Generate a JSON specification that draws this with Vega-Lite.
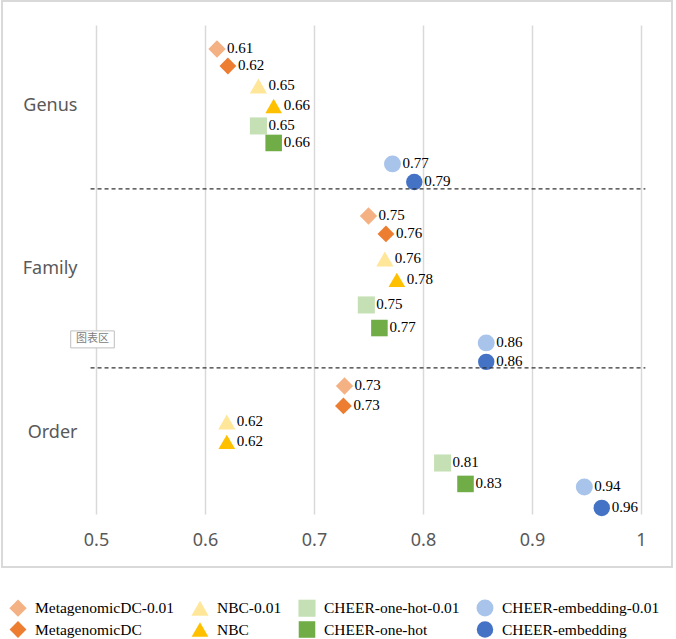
{
  "$schema": "https://vega.github.io/schema/vega-lite/v6.json",
  "autosize": "none",
  "width": 545,
  "height": 489,
  "padding": {"left": 96, "top": 25, "right": 35, "bottom": 125},
  "background": "white",
  "config": {"view": {"stroke": null}},
  "data": {"values": [
    {"rank": "Genus", "series": "MetagenomicDC-0.01", "acc": 0.611, "pos": 2.782, "label": "0.61"},
    {"rank": "Genus", "series": "MetagenomicDC", "acc": 0.621, "pos": 2.687, "label": "0.62"},
    {"rank": "Genus", "series": "NBC-0.01", "acc": 0.649, "pos": 2.575, "label": "0.65"},
    {"rank": "Genus", "series": "NBC", "acc": 0.663, "pos": 2.464, "label": "0.66"},
    {"rank": "Genus", "series": "CHEER-one-hot-0.01", "acc": 0.649, "pos": 2.352, "label": "0.65"},
    {"rank": "Genus", "series": "CHEER-one-hot", "acc": 0.663, "pos": 2.257, "label": "0.66"},
    {"rank": "Genus", "series": "CHEER-embedding-0.01", "acc": 0.772, "pos": 2.140, "label": "0.77"},
    {"rank": "Genus", "series": "CHEER-embedding", "acc": 0.792, "pos": 2.039, "label": "0.79"},
    {"rank": "Family", "series": "MetagenomicDC-0.01", "acc": 0.750, "pos": 1.849, "label": "0.75"},
    {"rank": "Family", "series": "MetagenomicDC", "acc": 0.766, "pos": 1.749, "label": "0.76"},
    {"rank": "Family", "series": "NBC-0.01", "acc": 0.765, "pos": 1.609, "label": "0.76"},
    {"rank": "Family", "series": "NBC", "acc": 0.776, "pos": 1.492, "label": "0.78"},
    {"rank": "Family", "series": "CHEER-one-hot-0.01", "acc": 0.748, "pos": 1.352, "label": "0.75"},
    {"rank": "Family", "series": "CHEER-one-hot", "acc": 0.760, "pos": 1.223, "label": "0.77"},
    {"rank": "Family", "series": "CHEER-embedding-0.01", "acc": 0.858, "pos": 1.140, "label": "0.86"},
    {"rank": "Family", "series": "CHEER-embedding", "acc": 0.858, "pos": 1.034, "label": "0.86"},
    {"rank": "Order", "series": "MetagenomicDC-0.01", "acc": 0.728, "pos": 0.899, "label": "0.73"},
    {"rank": "Order", "series": "MetagenomicDC", "acc": 0.727, "pos": 0.788, "label": "0.73"},
    {"rank": "Order", "series": "NBC-0.01", "acc": 0.620, "pos": 0.698, "label": "0.62"},
    {"rank": "Order", "series": "NBC", "acc": 0.620, "pos": 0.587, "label": "0.62"},
    {"rank": "Order", "series": "CHEER-one-hot-0.01", "acc": 0.818, "pos": 0.469, "label": "0.81"},
    {"rank": "Order", "series": "CHEER-one-hot", "acc": 0.839, "pos": 0.352, "label": "0.83"},
    {"rank": "Order", "series": "CHEER-embedding-0.01", "acc": 0.948, "pos": 0.335, "label": "0.94"},
    {"rank": "Order", "series": "CHEER-embedding", "acc": 0.964, "pos": 0.218, "label": "0.96"}
  ]},
  "layer": [
    {
      "mark": {"type": "rect", "fill": null, "stroke": "#d9d9d9", "strokeWidth": 1.5, "clip": false},
      "encoding": {
        "x": {"datum": 0.4138, "type": "quantitative", "scale": {"domain": [0.5, 1.0], "nice": false, "zero": false}},
        "x2": {"datum": 1.0284},
        "y": {"datum": 3.0503, "type": "quantitative", "scale": {"domain": [0.184, 2.916], "nice": false, "zero": false}},
        "y2": {"datum": -0.1117}
      }
    },
    {
      "mark": {"type": "point", "filled": true, "opacity": 1, "strokeWidth": 0},
      "encoding": {
        "x": {"field": "acc", "type": "quantitative",
          "scale": {"domain": [0.5, 1.0], "nice": false, "zero": false},
          "axis": {"values": [0.5, 0.6, 0.7, 0.8, 0.9, 1.0], "format": "~g", "title": null, "labelFlush": false,
            "grid": true, "gridColor": "#d9d9d9", "gridWidth": 1.5, "domain": false, "ticks": false,
            "labelFont": "Noto Sans", "labelFontSize": 18, "labelColor": "#595959", "labelPadding": 17}},
        "y": {"field": "pos", "type": "quantitative",
          "scale": {"domain": [0.184, 2.916], "nice": false, "zero": false},
          "axis": {"values": [2.464, 1.553, 0.642], "title": null, "grid": false, "domain": false, "ticks": false,
            "labelExpr": "datum.value > 2 ? 'Genus' : (datum.value > 1 ? 'Family' : 'Order')",
            "labelFont": "Noto Sans", "labelFontSize": 18, "labelColor": "#595959", "labelPadding": 19}},
        "color": {"field": "series", "type": "nominal",
          "scale": {
            "domain": ["MetagenomicDC-0.01", "NBC-0.01", "CHEER-one-hot-0.01", "CHEER-embedding-0.01", "MetagenomicDC", "NBC", "CHEER-one-hot", "CHEER-embedding"],
            "range": ["#F4B183", "#FFE699", "#C5E0B4", "#A9C4EB", "#ED7D31", "#FFC000", "#70AD47", "#4472C4"]},
          "legend": {"orient": "none", "legendX": -87, "legendY": 574, "columns": 4, "direction": "horizontal",
            "title": null, "symbolSize": 270, "symbolOpacity": 1, "symbolStrokeWidth": 0, "labelFont": "Liberation Serif", "labelFontSize": 15.5,
            "labelColor": "black", "columnPadding": 16, "rowPadding": 4, "padding": 0, "labelOffset": 8, "labelLimit": 300}},
        "shape": {"field": "series", "type": "nominal",
          "scale": {
            "domain": ["MetagenomicDC-0.01", "NBC-0.01", "CHEER-one-hot-0.01", "CHEER-embedding-0.01", "MetagenomicDC", "NBC", "CHEER-one-hot", "CHEER-embedding"],
            "range": ["diamond", "triangle-up", "square", "circle", "diamond", "triangle-up", "square", "circle"]}},
        "size": {"field": "series", "type": "nominal", "legend": null,
          "scale": {
            "domain": ["MetagenomicDC-0.01", "NBC-0.01", "CHEER-one-hot-0.01", "CHEER-embedding-0.01", "MetagenomicDC", "NBC", "CHEER-one-hot", "CHEER-embedding"],
            "range": [300, 270, 196, 200, 300, 270, 196, 200]}}
      }
    },
    {
      "mark": {"type": "text", "align": "left", "baseline": "middle", "dx": 10, "dy": -1, "font": "Liberation Serif", "fontSize": 15, "color": "black"},
      "encoding": {
        "x": {"field": "acc", "type": "quantitative"},
        "y": {"field": "pos", "type": "quantitative"},
        "text": {"field": "label"}
      }
    },
    {
      "data": {"values": [{"boundary": 2}, {"boundary": 1}]},
      "mark": {"type": "rule", "color": "#333333", "strokeWidth": 1.2, "strokeDash": [4, 3], "clip": false},
      "encoding": {
        "x": {"datum": 0.495, "type": "quantitative"},
        "x2": {"datum": 1.004},
        "y": {"field": "boundary", "type": "quantitative"}
      }
    },
    {
      "data": {"values": [{"tip": "图表区"}]},
      "mark": {"type": "rect", "fill": "white", "stroke": "#bfbfbf", "strokeWidth": 1, "clip": false},
      "encoding": {
        "x": {"datum": 0.4768, "type": "quantitative"},
        "x2": {"datum": 0.5168},
        "y": {"datum": 1.207, "type": "quantitative"},
        "y2": {"datum": 1.112}
      }
    },
    {
      "data": {"values": [{"tip": "图表区"}]},
      "mark": {"type": "text", "align": "center", "baseline": "middle", "font": "Noto Sans CJK SC", "fontSize": 11, "color": "#808080"},
      "encoding": {
        "x": {"datum": 0.4968, "type": "quantitative"},
        "y": {"datum": 1.159, "type": "quantitative"},
        "text": {"field": "tip"}
      }
    }
  ]
}
